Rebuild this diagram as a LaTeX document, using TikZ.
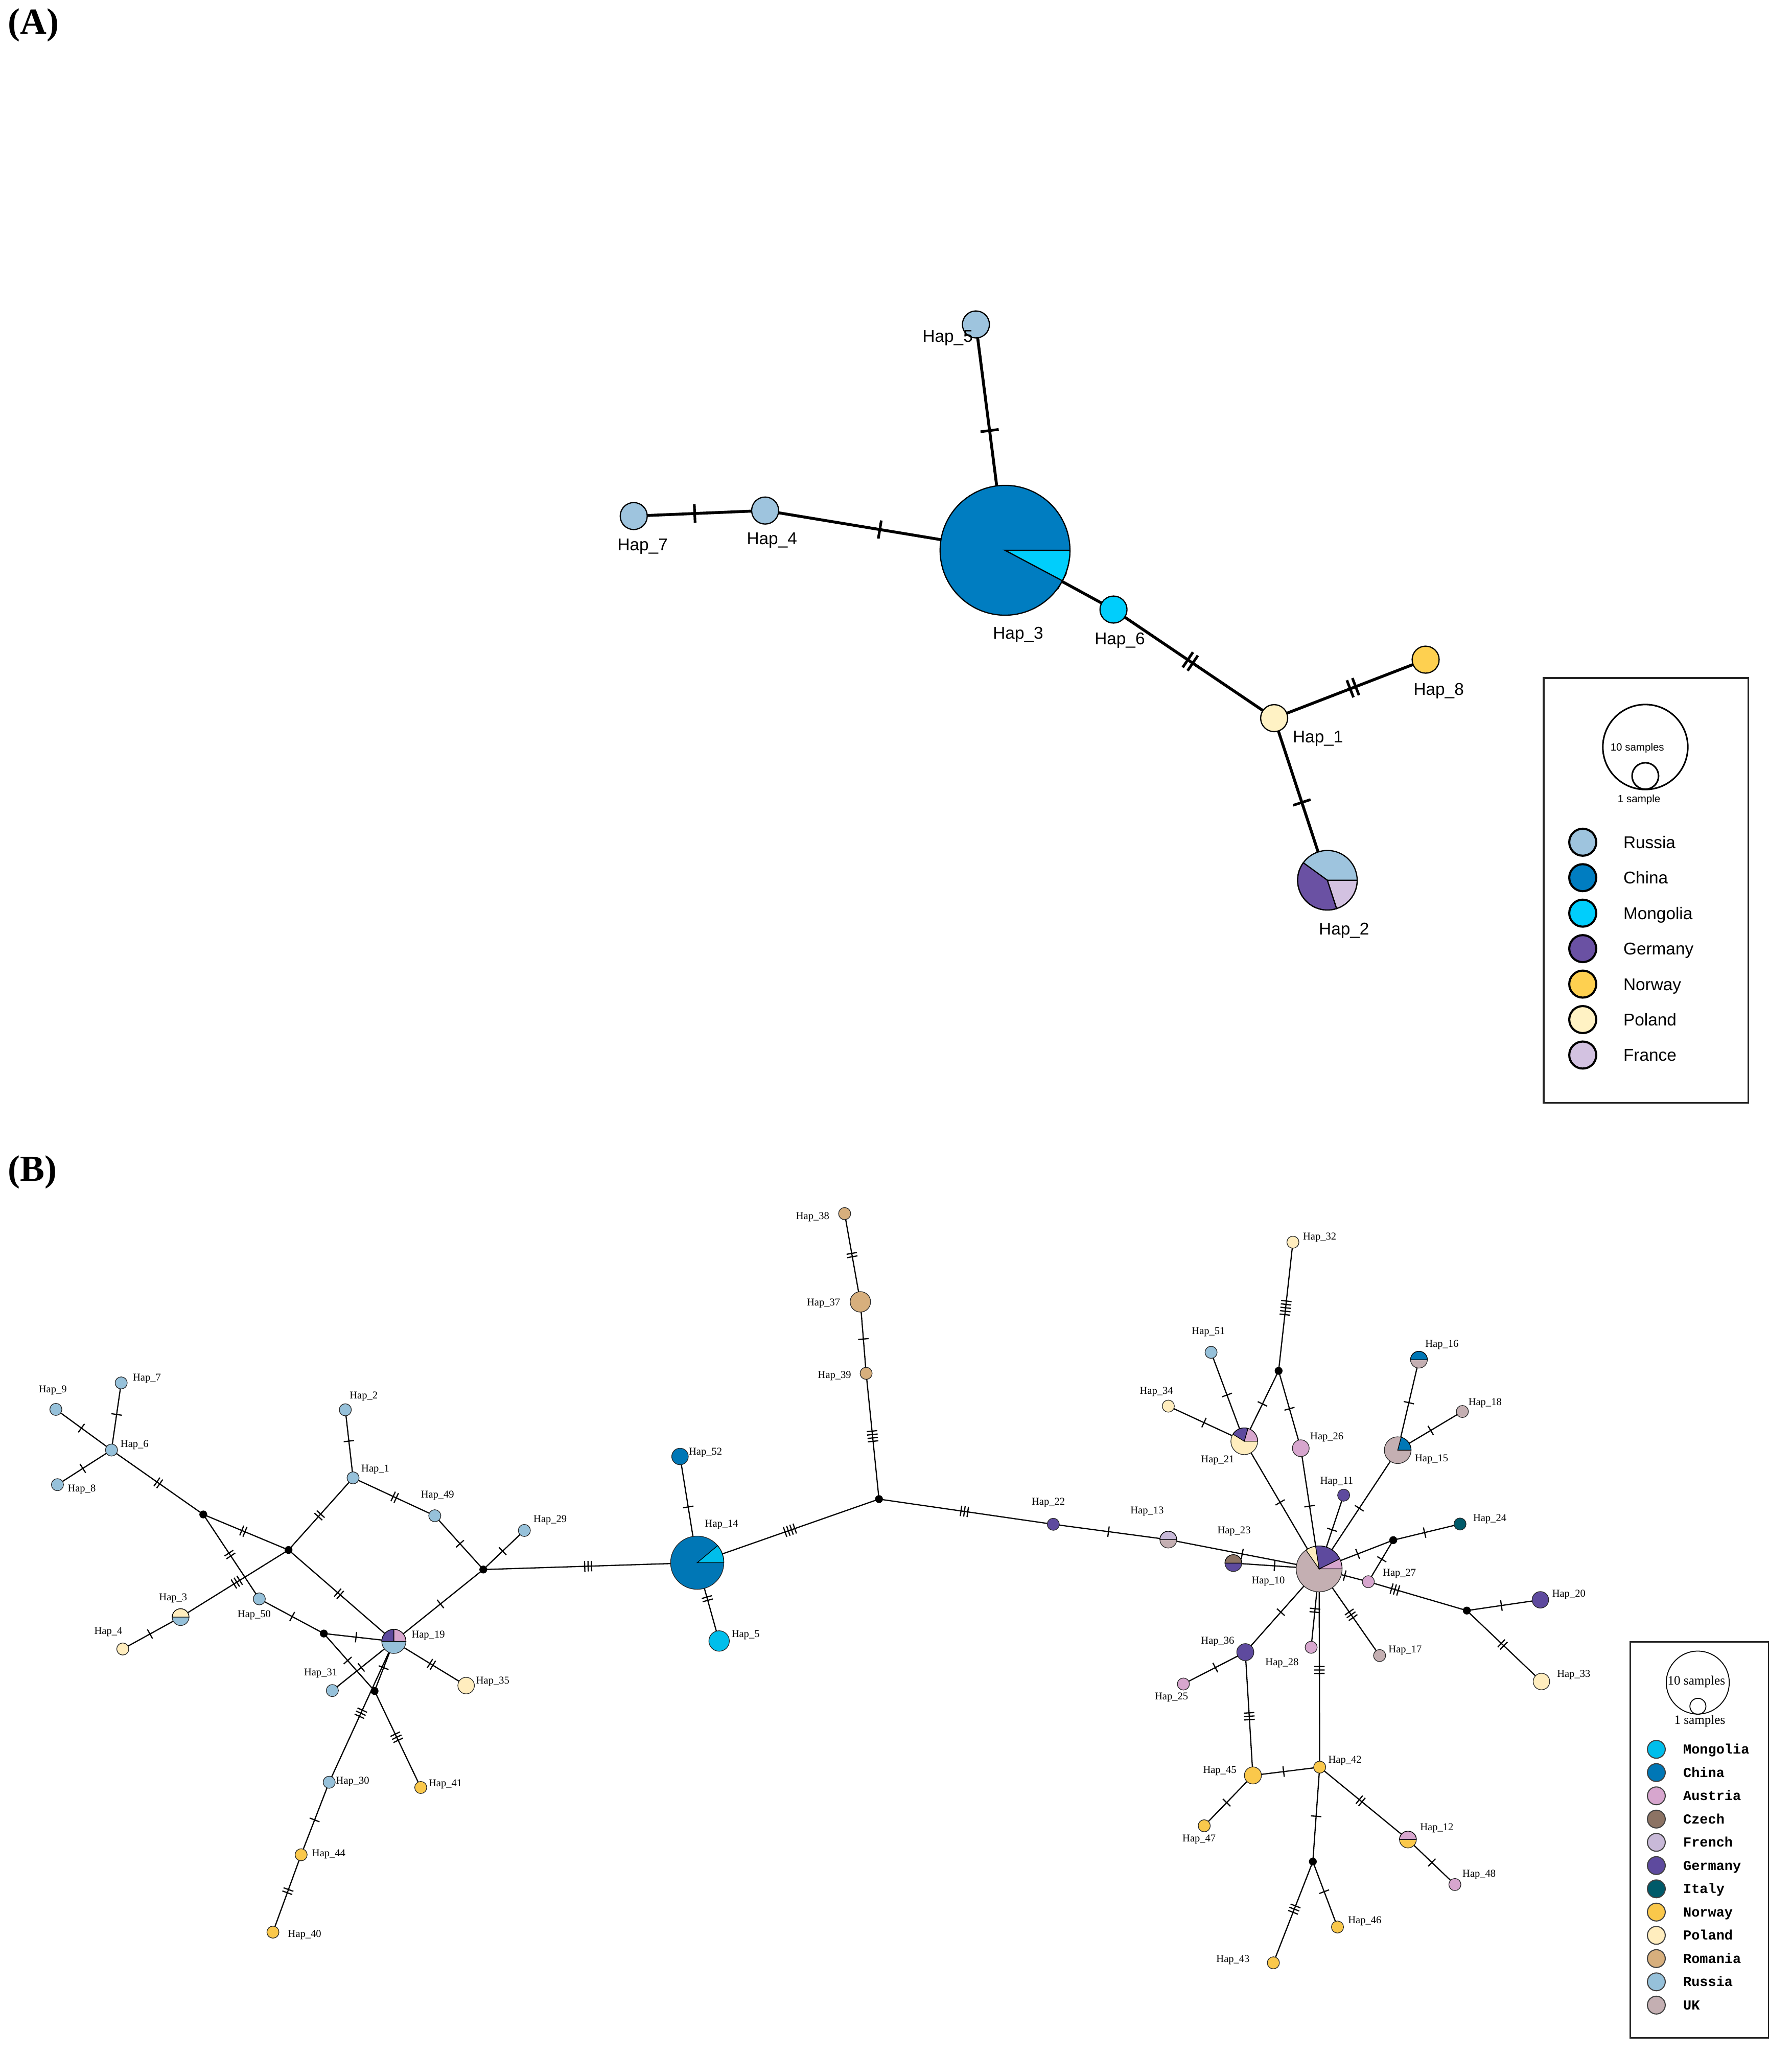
\documentclass[tikz,border=0pt]{standalone}
\usepackage{fontspec}
\setmainfont{Liberation Serif}
\setsansfont{Liberation Sans}
\setmonofont{Liberation Mono}
\usetikzlibrary{decorations.markings}
\pgfdeclarelayer{bg}
\pgfsetlayers{bg,main}
% part A colours
\definecolor{rusA}{RGB}{158,196,222}
\definecolor{chinaA}{RGB}{0,125,193}
\definecolor{monA}{RGB}{0,206,252}
\definecolor{gerA}{RGB}{106,81,163}
\definecolor{norA}{RGB}{254,208,80}
\definecolor{polA}{RGB}{255,242,196}
\definecolor{fraA}{RGB}{211,194,225}
% part B colours
\definecolor{monB}{RGB}{0,190,235}
\definecolor{chinaB}{RGB}{0,119,182}
\definecolor{ausB}{RGB}{215,166,206}
\definecolor{czeB}{RGB}{140,115,100}
\definecolor{freB}{RGB}{200,185,216}
\definecolor{gerB}{RGB}{94,74,158}
\definecolor{itaB}{RGB}{0,90,105}
\definecolor{norB}{RGB}{250,200,75}
\definecolor{polB}{RGB}{255,237,190}
\definecolor{romB}{RGB}{215,175,125}
\definecolor{rusB}{RGB}{150,193,218}
\definecolor{ukB}{RGB}{196,175,178}
\newcommand\tkdrawA[1]{\foreach \ii in {1,...,#1}{\pgfmathsetmacro\tkx{(\ii-(#1+1)/2)*4.5}\draw[line width=2pt] (\tkx pt,-7pt) -- (\tkx pt,7pt);}}
\newcommand\tkdrawB[1]{\foreach \ii in {1,...,#1}{\pgfmathsetmacro\tkx{(\ii-(#1+1)/2)*2.6}\draw[line width=0.9pt] (\tkx pt,-4pt) -- (\tkx pt,4pt);}}
\newcommand\sliceA[5]{\filldraw[fill=#5, draw=black, line width=0.9pt] (#1.center) -- ++(#3:#2pt) arc[start angle=#3, end angle=#4, radius=#2pt] -- cycle;}
\newcommand\sliceB[5]{\filldraw[fill=#5, draw=black, line width=0.5pt] (#1.center) -- ++(#3:#2pt) arc[start angle=#3, end angle=#4, radius=#2pt] -- cycle;}
\tikzset{
  tkA/.style 2 args={postaction={decorate,decoration={markings,mark=at position #1 with {\tkdrawA{#2}}}}},
  tkB/.style 2 args={postaction={decorate,decoration={markings,mark=at position #1 with {\tkdrawB{#2}}}}},
  hA/.style={circle, draw=black, line width=0.9pt, inner sep=0pt, minimum size=20.6pt},
  hB/.style={circle, draw=black!85, line width=0.5pt, inner sep=0pt},
  mv/.style={circle, fill=black, inner sep=0pt, minimum size=6pt},
  eA/.style={line width=2.2pt},
  eB/.style={line width=0.9pt},
  lA/.style={font=\sffamily\fontsize{13}{15}\selectfont, inner sep=0pt},
  lB/.style={font=\fontsize{8}{9}\selectfont, inner sep=0pt},
  panel/.style={font=\bfseries\fontsize{28}{30}\selectfont, inner sep=0pt, anchor=west},
  lgA/.style={circle, draw=black, line width=1.6pt, inner sep=0pt, minimum size=20.6pt},
  lgAt/.style={anchor=base west, font=\sffamily\fontsize{13}{15}\selectfont, inner sep=0pt},
  lgB/.style={circle, draw=black!75, line width=0.8pt, inner sep=0pt, minimum size=13.6pt},
  lgBt/.style={anchor=base west, font=\ttfamily\bfseries\fontsize{10.5}{12}\selectfont, inner sep=0pt},
}
\begin{document}
\begin{tikzpicture}[x=1pt,y=-1pt]
\useasboundingbox (0,0) rectangle (1366,1567);

% ================= (A) =================
\node[panel] (pA) at (6,19) {(A)};
\node[hA, fill=rusA] (A5) at (744.1,247.4) {};
\node[hA, fill=chinaA, minimum size=99pt] (A3) at (766.3,419.6) {};
\node[hA, fill=rusA] (A7) at (483.2,393.5) {};
\node[hA, fill=rusA] (A4) at (583.4,389.3) {};
\node[hA, fill=monA] (A6) at (849.0,464.8) {};
\node[hA, fill=polA] (A1) at (971.5,547.6) {};
\node[hA, fill=rusA, minimum size=45.4pt] (A2) at (1012.1,671.2) {};
\node[hA, fill=norA] (A8) at (1087,503) {};
\sliceA{A3}{49.5}{-28}{0}{monA}
\sliceA{A2}{22.7}{144}{288}{gerA}
\sliceA{A2}{22.7}{288}{360}{fraA}

\begin{pgfonlayer}{bg}
\foreach \a/\b/\t/\n in {A5/A3/0.47/1, A7/A4/0.464/1, A4/A3/0.478/1, A3/A6/0.52/1,
  A6/A1/0.478/2, A1/A8/0.52/2, A1/A2/0.52/1}
  \draw[eA, tkA={\t}{\n}] (\a.center) -- (\b.center);
\end{pgfonlayer}

\node[lA] (tA5) at (722.6,257.8) {Hap\_5};
\node[lA] (tA3) at (776.3,484.0) {Hap\_3};
\node[lA] (tA7) at (490.0,416.8) {Hap\_7};
\node[lA] (tA4) at (588.6,412.0) {Hap\_4};
\node[lA] (tA6) at (853.8,488.1) {Hap\_6};
\node[lA] (tA1) at (1004.9,563.0) {Hap\_1};
\node[lA] (tA2) at (1024.8,709.4) {Hap\_2};
\node[lA] (tA8) at (1097,527) {Hap\_8};

% legend A
\draw[line width=1.2pt, draw=black!85] (1177,517) rectangle (1333,841);
\node[circle, draw=black, line width=1.2pt, minimum size=64.8pt, inner sep=0pt] (lgAbig) at (1254.5,569.6) {};
\node[circle, draw=black, line width=1.2pt, minimum size=20.2pt, inner sep=0pt] (lgAsmall) at (1254.5,591.7) {};
\node[font=\sffamily\fontsize{8}{9}\selectfont, inner sep=0pt] (lgAt10) at (1248.4,570.3) {10 samples};
\node[font=\sffamily\fontsize{8}{9}\selectfont, inner sep=0pt] (lgAt1) at (1249.7,609.7) {1 sample};
\foreach \k/\c/\txt in {0/rusA/Russia, 1/chinaA/China, 2/monA/Mongolia, 3/gerA/Germany,
  4/norA/Norway, 5/polA/Poland, 6/fraA/France}{
  \node[lgA, fill=\c] (lgA\k) at (1206.8,{642.2+27.05*\k}) {};
  \node[lgAt] (lgAt\k) at (1237.6,{642.2+27.05*\k+4.65}) {\txt};
}

% ================= (B) =================
\node[panel] (pB) at (6,894) {(B)};
\foreach \n/\x/\y/\d/\c in {
 B9/42.6/1074.7/9.2/rusB, B7/92.4/1054.5/9.2/rusB, B6/85.0/1105.7/9.2/rusB,
 B8/43.8/1132.1/9.2/rusB, B2/263.3/1075.0/9.2/rusB, B1/269.2/1126.9/9.2/rusB,
 B49/331.5/1155.8/9.2/rusB, B29/399.8/1167.0/9.2/rusB, B3/137.7/1233.1/12.8/rusB,
 B4/93.6/1257.4/9.2/polB, B50/197.7/1219.2/9.2/rusB, B19/300.3/1251.6/18.4/rusB,
 B31/253.4/1289.1/9.2/rusB, B35/355.4/1285.3/12.6/polB, B30/251.0/1359.0/9.2/rusB,
 B41/320.8/1363.0/9.2/norB, B44/229.6/1414.3/9.2/norB, B40/208.1/1473.3/9.2/norB,
 B38/644.0/925.4/9.2/romB, B37/656.0/992.7/15.6/romB, B39/660.4/1047.2/9.2/romB,
 B52/518.5/1110.6/12.6/chinaB, B14/531.6/1191.6/40.6/chinaB, B5/548.3/1251.3/15.6/monB,
 B22/803.1/1162.3/9.2/gerB, B32/985.8/947.2/9.2/polB, B51/923.4/1031.2/9.2/rusB,
 B34/890.8/1072.2/9.2/polB, B21/948.7/1099.0/20.4/polB, B26/991.8/1104.3/12.8/ausB,
 B16/1081.9/1036.8/12.8/ukB, B18/1115.0/1076.3/9.2/ukB, B15/1065.7/1105.8/20.4/ukB,
 B11/1024.5/1140.1/9.2/gerB, B24/1113.2/1162.1/9.2/itaB, B13/890.8/1174.0/12.8/ukB,
 B23/940.4/1191.9/12.8/gerB, B10/1005.8/1196.3/35/ukB, B27/1043.3/1206.1/9.2/ausB,
 B20/1174.5/1219.9/12.6/gerB, B33/1175.3/1282.2/12.6/polB, B36/949.5/1259.8/13/gerB,
 B25/902.3/1284.1/9.2/ausB, B28/999.7/1256.1/9.2/ausB, B17/1051.9/1262.4/9.2/ukB,
 B45/955.3/1353.8/13/norB, B42/1006.2/1347.5/9.2/norB, B47/918.2/1392.2/9.2/norB,
 B12/1073.5/1402.7/12.8/norB, B48/1109.3/1437.0/9.2/ausB, B46/1019.8/1469.4/9.2/norB,
 B43/970.9/1496.7/9.2/norB}
 \node[hB, fill=\c, minimum size=\d pt] (\n) at (\x,\y) {};
\foreach \n/\x/\y in {m1/155.0/1154.8, m2/220.0/1181.9, m3/368.5/1196.8, m4/246.9/1245.6,
 m5/285.6/1289.4, m6/670.2/1143.1, m7/974.9/1045.3, m8/1062.3/1174.4, m9/1118.4/1228.1,
 m10/1001.0/1419.5}
 \node[mv] (\n) at (\x,\y) {};

% pies
\sliceB{B3}{6.4}{0}{180}{polB}
\sliceB{B19}{9.2}{0}{90}{ausB}
\sliceB{B19}{9.2}{90}{180}{gerB}
\sliceB{B14}{20.3}{0}{40}{monB}
\sliceB{B21}{10.2}{0}{74}{ausB}
\sliceB{B21}{10.2}{74}{148}{gerB}
\sliceB{B16}{6.4}{0}{180}{chinaB}
\sliceB{B15}{10.2}{0}{75}{chinaB}
\sliceB{B13}{6.4}{0}{180}{freB}
\sliceB{B23}{6.4}{0}{180}{czeB}
\sliceB{B10}{17.5}{0}{26}{ausB}
\sliceB{B10}{17.5}{26}{99}{gerB}
\sliceB{B10}{17.5}{99}{125}{polB}
\sliceB{B12}{6.4}{0}{180}{ausB}

\begin{pgfonlayer}{bg}
\foreach \a/\b/\t/\n in {
 B9/B6/0.46/1, B7/B6/0.47/1, B8/B6/0.47/1, B6/m1/0.51/2, m1/m2/0.47/2, m1/B50/0.475/2,
 B2/B1/0.46/1, B1/m2/0.52/2, B1/B49/0.51/2, B49/m3/0.52/1, B29/m3/0.53/1, m3/B14/0.49/3,
 m2/B3/0.48/3, m2/B19/0.48/2, m3/B19/0.48/1, B3/B4/0.53/1, B50/m4/0.51/1, m4/B19/0.46/1,
 m4/m5/0.47/1, B19/B31/0.53/1, B19/m5/0.53/1, B19/B30/0.51/3, m5/B41/0.48/3,
 B19/B35/0.52/2, B30/B44/0.52/1, B44/B40/0.47/2,
 B38/B37/0.47/2, B37/B39/0.52/1, B39/m6/0.50/4, m6/B14/0.49/4, m6/B22/0.49/3,
 B52/B14/0.475/1, B14/B5/0.46/2, B22/B13/0.48/1,
 B32/m7/0.51/5, m7/B21/0.47/1, m7/B26/0.49/1, B51/B21/0.48/1, B34/B21/0.47/1,
 B21/B10/0.48/1, B26/B10/0.48/1, B11/B10/0.47/1, B16/B15/0.475/1, B18/B15/0.49/1,
 B15/B10/0.49/1, B10/m8/0.52/1, m8/B24/0.47/1, m8/B27/0.46/1, B10/B27/0.52/1,
 B27/m9/0.27/3, m9/B20/0.47/1, m9/B33/0.48/2, B13/B10/0.49/1, B23/B10/0.48/1,
 B10/B36/0.52/1, B36/B25/0.485/1, B10/B28/0.53/2, B10/B17/0.53/3, B10/B42/0.51/3,
 B36/B45/0.52/3, B45/B42/0.46/1, B45/B47/0.54/1, B42/B12/0.465/2, B12/B48/0.51/1,
 B42/m10/0.52/1, m10/B46/0.46/1, m10/B43/0.47/3}
 \draw[eB, tkB={\t}{\n}] (\a.center) -- (\b.center);
\end{pgfonlayer}

% labels B
\foreach \s/\x/\y in {
 9/40.2/1060, 7/112/1051, 6/102.6/1101.7, 8/62.3/1135.6, 2/277.3/1064.7, 1/286.2/1120.3,
 49/333.6/1140.2, 29/419.5/1158.9, 3/132/1218.5, 4/82.6/1244.3, 50/193.8/1231.3,
 19/326.5/1247.1, 31/244.5/1276, 35/375.7/1282.2, 30/268.9/1358.4, 41/339.6/1360.5,
 44/250.7/1413.7, 40/232.3/1475.5,
 38/619.6/927.9, 37/627.9/993.7, 39/636.3/1049.2, 52/537.9/1107.6, 14/550.2/1162.5,
 5/568.5/1246.8, 22/799.3/1145.6,
 32/1006.2/943.5, 51/921.4/1015.5, 34/881.7/1061.4, 21/928.4/1113.6, 26/1011.7/1096.1,
 16/1099.4/1025.2, 18/1132.3/1069.6, 15/1091.5/1112.8, 11/1019.2/1130.0,
 24/1135.9/1158.3, 13/874.6/1152.4, 23/940.9/1167.7, 10/967.0/1205.7, 27/1067.0/1199.8,
 20/1196.2/1215.8, 33/1199.9/1277.0, 36/928.4/1251.6, 25/893.2/1294.1, 28/977.5/1268.0,
 17/1071.4/1258.3, 45/930.0/1350.4, 42/1025.5/1342.6, 47/914.3/1402.7, 12/1095.5/1394.1,
 48/1127.8/1429.5, 46/1040.6/1465.0, 43/940.1/1494.4}
 \node[lB] (tB\s) at (\x,\y) {Hap\_\s};

% legend B
\draw[line width=1pt, draw=black!85] (1243,1252) rectangle (1348.4,1554);
\node[circle, draw=black, line width=0.7pt, minimum size=48pt, inner sep=0pt] (lgBbig) at (1294.5,1283) {};
\node[circle, draw=black, line width=0.7pt, minimum size=12.2pt, inner sep=0pt] (lgBsmall) at (1294.6,1301.1) {};
\node[font=\fontsize{9.8}{11}\selectfont, inner sep=0pt] (lgBt10) at (1293.4,1282.4) {10 samples};
\node[font=\fontsize{9.8}{11}\selectfont, inner sep=0pt] (lgBt1) at (1296,1312.3) {1 samples};
\foreach \k/\c/\txt in {0/monB/Mongolia, 1/chinaB/China, 2/ausB/Austria, 3/czeB/Czech,
  4/freB/French, 5/gerB/Germany, 6/itaB/Italy, 7/norB/Norway, 8/polB/Poland,
  9/romB/Romania, 10/rusB/Russia, 11/ukB/UK}{
  \node[lgB, fill=\c] (lgB\k) at (1262.9,{1333.9+17.73*\k}) {};
  \node[lgBt] (lgBt\k) at (1283.2,{1333.9+17.73*\k+3.5}) {\txt};
}
\end{tikzpicture}
\end{document}
